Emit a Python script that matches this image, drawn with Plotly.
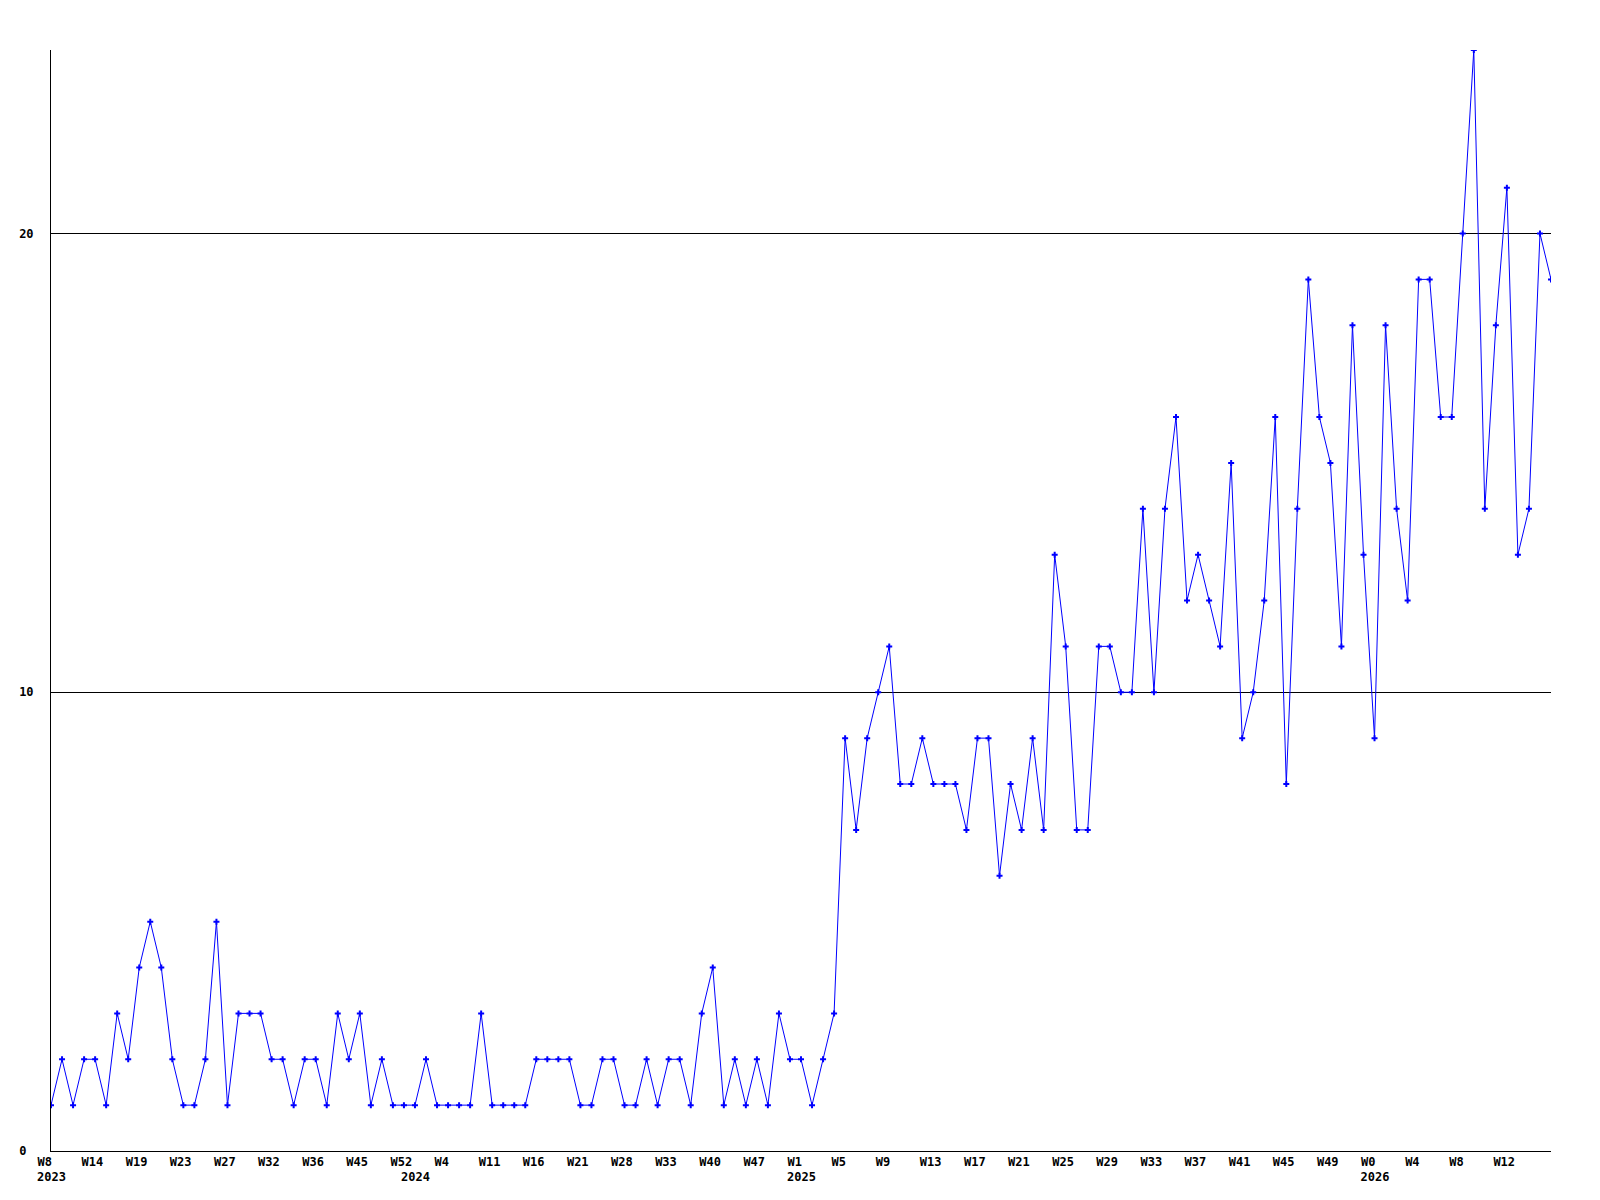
import plotly.graph_objects as go

# weekly counts, one per point (137 points)
values = [
    1, 2, 1, 2, 2, 1, 3, 2, 4, 5,
    4, 2, 1, 1, 2, 5, 1, 3, 3, 3,
    2, 2, 1, 2, 2, 1, 3, 2, 3, 1,
    2, 1, 1, 1, 2, 1, 1, 1, 1, 3,
    1, 1, 1, 1, 2, 2, 2, 2, 1, 1,
    2, 2, 1, 1, 2, 1, 2, 2, 1, 3,
    4, 1, 2, 1, 2, 1, 3, 2, 2, 1,
    2, 3, 9, 7, 9, 10, 11, 8, 8, 9,
    8, 8, 8, 7, 9, 9, 6, 8, 7, 9,
    7, 13, 11, 7, 7, 11, 11, 10, 10, 14,
    10, 14, 16, 12, 13, 12, 11, 15, 9, 10,
    12, 16, 8, 14, 19, 16, 15, 11, 18, 13,
    9, 18, 14, 12, 19, 19, 16, 16, 20, 24,
    14, 18, 21, 13, 14, 20, 19,
]

# week labels shown every 4th point
week_labels = [
    "W8", "W14", "W19", "W23", "W27", "W32", "W36", "W45", "W52", "W4",
    "W11", "W16", "W21", "W28", "W33", "W40", "W47", "W1", "W5", "W9",
    "W13", "W17", "W21", "W25", "W29", "W33", "W37", "W41", "W45", "W49",
    "W0", "W4", "W8", "W12",
]

# year labels and the point index where each year starts
year_labels = ["2023", "2024", "2025", "2026"]
year_start_index = [0, 33, 68, 120]

y_ticks = [0, 10, 20]
y_tick_text = ["0\u00a0", "10", "20"]

x = list(range(len(values)))
week_tickvals = list(range(0, len(values), 4))[: len(week_labels)]

FONT = dict(family="DejaVu Sans Mono", size=12, color="black", weight="bold")

fig = go.Figure()
fig.add_trace(go.Scatter(
    x=x, y=values, mode="lines+markers",
    line=dict(color="#0000FF", width=1),
    marker=dict(symbol="cross", size=5, color="#0000FF"),
    showlegend=False, hoverinfo="x+y",
))
# helper trace to keep the year axis drawn
fig.add_trace(go.Scatter(x=[None], y=[None], xaxis="x2", showlegend=False, hoverinfo="skip"))

xrange = [0, len(values) - 1]

fig.update_layout(
    width=1584, height=1184,
    paper_bgcolor="white", plot_bgcolor="white",
    margin=dict(l=43, r=41, t=42, b=41, autoexpand=False),
    xaxis=dict(
        range=xrange, showgrid=False, zeroline=False, automargin=False,
        showline=True, linecolor="black", linewidth=1,
        tickmode="array", tickvals=week_tickvals, ticktext=week_labels,
        ticks="", tickfont=FONT,
        ticklabelposition="outside right", ticklabelshift=-14,
        ticklabelstandoff=0,
    ),
    xaxis2=dict(
        range=xrange, overlaying="x", anchor="y", side="bottom", automargin=False,
        showgrid=False, zeroline=False, showline=False,
        tickmode="array", tickvals=year_start_index, ticktext=year_labels,
        ticks="", tickfont=FONT,
        ticklabelposition="outside right", ticklabelshift=-14,
        ticklabelstandoff=17,
    ),
    yaxis=dict(
        range=[0, 24], zeroline=False, automargin=False,
        showline=True, linecolor="black", linewidth=1,
        showgrid=True, gridcolor="black", gridwidth=1,
        tickmode="array", tickvals=y_ticks, ticktext=y_tick_text,
        ticks="", tickfont=FONT, ticklabelstandoff=14,
    ),
)

fig.write_html("out.html")
